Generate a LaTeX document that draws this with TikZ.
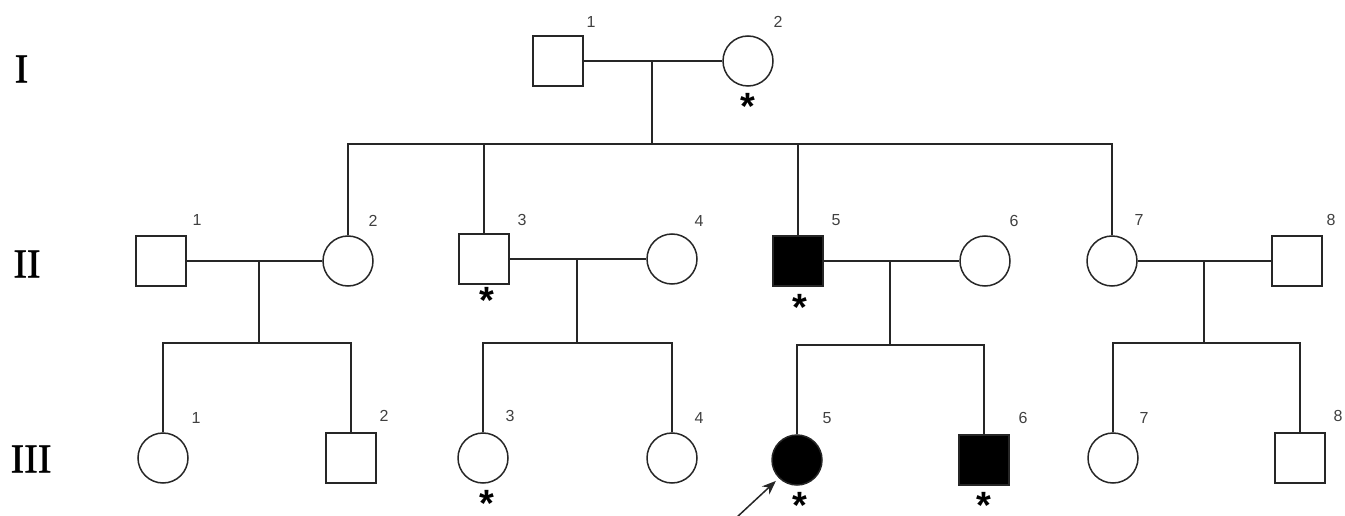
\documentclass[tikz,border=0pt]{standalone}
\usepackage{fontspec}
\setmainfont{Liberation Serif}
\newfontfamily\numfont{Liberation Sans}
\usetikzlibrary{arrows.meta}
\newcommand{\pedstar}{\raisebox{-0.43em}[0.29em][0pt]{*}}
\begin{document}
\begin{tikzpicture}[x=1pt,y=-1pt,
  ln/.style={draw=black!85, line width=1.5pt},
  male/.style={ln, rectangle, minimum size=50pt, inner sep=0pt, fill=white},
  female/.style={ln, circle, minimum size=50pt, inner sep=0pt, fill=white},
  aff/.style={fill=black},
  num/.style={font=\numfont\fontsize{16}{16}\selectfont, text=black!75, inner sep=0pt},
  star/.style={font=\numfont\bfseries\fontsize{38}{38}\selectfont, inner sep=0pt},
  gen/.style={font=\addfontfeature{FakeBold=1.2}\fontsize{41}{41}\selectfont, inner sep=0pt}]
\useasboundingbox (0,0) rectangle (1345,516);
% generation labels
\node[gen] (gI) at (21.5,69) {I};
\node[gen] (gII) at (27,264) {II};
\node[gen] (gIII) at (31,459) {III};
% generation I
\node[male] (I1) at (558,61) {};
\node[female] (I2) at (748,61) {};
% generation II
\node[male] (II1) at (161,261) {};
\node[female] (II2) at (348,261) {};
\node[male] (II3) at (484,259) {};
\node[female] (II4) at (672,259) {};
\node[male,aff] (II5) at (798,261) {};
\node[female] (II6) at (985,261) {};
\node[female] (II7) at (1112,261) {};
\node[male] (II8) at (1297,261) {};
% generation III
\node[female] (III1) at (163,458) {};
\node[male] (III2) at (351,458) {};
\node[female] (III3) at (483,458) {};
\node[female] (III4) at (672,458) {};
\node[female,aff] (III5) at (797,460) {};
\node[male,aff] (III6) at (984,460) {};
\node[female] (III7) at (1113,458) {};
\node[male] (III8) at (1300,458) {};
% coordinates
\coordinate (mI) at (652,61);
\coordinate (sI) at (652,144);
\coordinate (mII1) at (259,261);
\coordinate (sII1) at (259,343);
\coordinate (mII3) at (577,259);
\coordinate (sII3) at (577,343);
\coordinate (mII5) at (890,261);
\coordinate (sII5) at (890,345);
\coordinate (mII7) at (1204,261);
\coordinate (sII7) at (1204,343);
% generation I lines
\draw[ln] (I1.east) -- (I2.west);
\draw[ln] (mI) -- (sI);
\draw[ln] (II2.north) |- (II7.north |- sI) -- (II7.north);
\draw[ln] (II3.north) -- (II3.north |- sI);
\draw[ln] (II5.north) -- (II5.north |- sI);
% generation II lines
\draw[ln] (II1.east) -- (II2.west);
\draw[ln] (mII1) -- (sII1);
\draw[ln] (III1.north) |- (III2.north |- sII1) -- (III2.north);
\draw[ln] (II3.east) -- (II4.west);
\draw[ln] (mII3) -- (sII3);
\draw[ln] (III3.north) |- (III4.north |- sII3) -- (III4.north);
\draw[ln] (II5.east) -- (II6.west);
\draw[ln] (mII5) -- (sII5);
\draw[ln] (III5.north) |- (III6.north |- sII5) -- (III6.north);
\draw[ln] (II7.east) -- (II8.west);
\draw[ln] (mII7) -- (sII7);
\draw[ln] (III7.north) |- (III8.north |- sII7) -- (III8.north);
% numbers
\node[num] (nI1) at (591,22) {1};
\node[num] (nI2) at (778,22) {2};
\node[num] (nII1) at (197,220) {1};
\node[num] (nII2) at (373,221) {2};
\node[num] (nII3) at (522,220) {3};
\node[num] (nII4) at (699,221) {4};
\node[num] (nII5) at (836,220) {5};
\node[num] (nII6) at (1014,221) {6};
\node[num] (nII7) at (1139,220) {7};
\node[num] (nII8) at (1331,220) {8};
\node[num] (nIII1) at (196,418) {1};
\node[num] (nIII2) at (384,416) {2};
\node[num] (nIII3) at (510,416) {3};
\node[num] (nIII4) at (699,418) {4};
\node[num] (nIII5) at (827,418) {5};
\node[num] (nIII6) at (1023,418) {6};
\node[num] (nIII7) at (1144,418) {7};
\node[num] (nIII8) at (1338,416) {8};
% asterisks
\node[star] (aI2) at (748,98) {\pedstar};
\node[star] (aII3) at (487,292) {\pedstar};
\node[star] (aII5) at (800,299) {\pedstar};
\node[star] (aIII3) at (487,495) {\pedstar};
\node[star] (aIII5) at (800,497) {\pedstar};
\node[star] (aIII6) at (984,497) {\pedstar};
% proband arrow
\coordinate (arrtail) at (736,518);
\draw[ln, shorten >=4pt, -{Stealth[length=14pt,width=11pt]}] (arrtail) -- (III5.225);
\end{tikzpicture}
\end{document}
